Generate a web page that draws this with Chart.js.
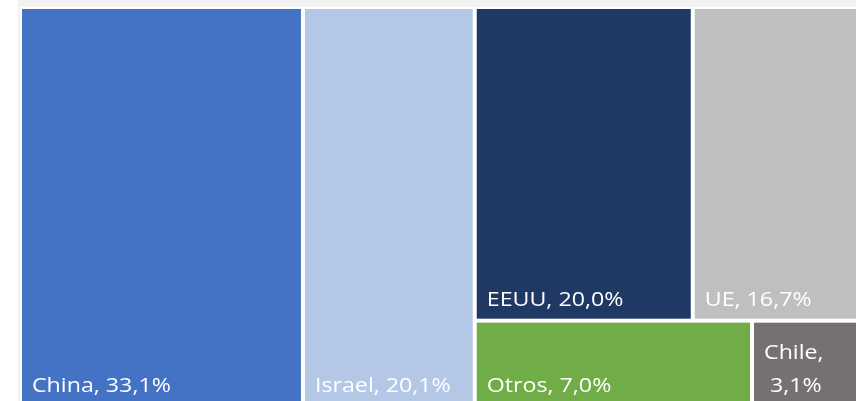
<!DOCTYPE html>
<html>
<head>
<meta charset="utf-8">
<script src="https://cdn.jsdelivr.net/npm/chart.js@4/dist/chart.umd.min.js"></script>
<style>
  html, body { margin: 0; padding: 0; background: #ffffff; overflow: hidden; }
  #wrap { position: absolute; left: 0; top: 0; width: 856px; height: 401px; }
</style>
</head>
<body>
<div id="wrap"><canvas id="chart"></canvas></div>
<script>
// datos del treemap (porcentaje por origen)
const categories = ["China", "Israel", "EEUU", "UE", "Otros", "Chile"];
const shares = [33.1, 20.1, 20.0, 16.7, 7.0, 3.1];
const colors = ["#4472C4", "#B4C7E7", "#203864", "#BFBFBF", "#70AD47", "#767171"];

// agrupacion: columnas -> filas -> indices de categoria
const columns = [[[0]], [[1]], [[2, 3], [4, 5]]];

// la imagen esta recortada: solo se ve parte del area 0..100
const viewX = [0, 97.8];
const viewY = [0, 98.5];

function fmtLabel(i) {
    return categories[i] + ", " + shares[i].toFixed(1).replace(".", ",") + "%";
}

// calcula los rectangulos en unidades de datos (0..100 en ambos ejes)
function buildCells() {
    const total = shares.reduce((a, b) => a + b, 0);
    const sum = idx => idx.reduce((a, i) => a + shares[i], 0);
    const cells = [];
    let x = 0;
    columns.forEach(col => {
        const colSum = col.reduce((a, row) => a + sum(row), 0);
        const w = colSum / total * 100;
        let y = 0;
        col.forEach(row => {
            const rowSum = sum(row);
            const h = rowSum / colSum * 100;
            let cx = x;
            row.forEach(i => {
                const cw = shares[i] / rowSum * w;
                cells.push({ i: i, x0: cx, x1: cx + cw, y0: y, y1: y + h });
                cx += cw;
            });
            y += h;
        });
        x += w;
    });
    return cells;
}

const FONT = "20px 'Open Sans', sans-serif";
const STRETCH = 1.16;  // el texto original es mas ancho

function wrapText(ctx, text, maxW) {
    if (ctx.measureText(text).width * STRETCH <= maxW) return [text];
    const words = text.split(" ");
    const lines = [];
    let cur = "";
    words.forEach(wd => {
        const test = cur ? cur + " " + wd : wd;
        if (cur && ctx.measureText(test).width * STRETCH > maxW) {
            lines.push(cur);
            cur = " " + wd;
        } else {
            cur = test;
        }
    });
    lines.push(cur);
    return lines;
}

const treemapPlugin = {
    id: "treemapCells",
    beforeDraw(chart) {
        const ctx = chart.ctx;
        ctx.save();
        ctx.fillStyle = "#F2F2F2";
        ctx.fillRect(chart.chartArea.left - 2, 0, chart.width, chart.height);
        ctx.restore();
    },
    afterDatasetsDraw(chart) {
        const ctx = chart.ctx;
        const sx = chart.scales.x, sy = chart.scales.y;
        const gap = 2;
        ctx.save();
        buildCells().forEach(c => {
            const left = sx.getPixelForValue(c.x0), right = sx.getPixelForValue(c.x1);
            const top = sy.getPixelForValue(c.y0), bottom = sy.getPixelForValue(c.y1);
            ctx.fillStyle = "#FFFFFF";
            ctx.fillRect(left, top, right - left, bottom - top);
            ctx.fillStyle = colors[c.i];
            ctx.fillRect(left + gap, top + gap, right - left - 2 * gap, bottom - top - 2 * gap);

            // etiqueta abajo a la izquierda
            ctx.font = FONT;
            ctx.fillStyle = "#FFFFFF";
            ctx.textBaseline = "alphabetic";
            ctx.textAlign = "left";
            const lines = wrapText(ctx, fmtLabel(c.i), right - left - 2 * gap - 20);
            const lineH = 33;
            lines.forEach((ln, k) => {
                const by = bottom - gap - 13 - (lines.length - 1 - k) * lineH;
                ctx.save();
                ctx.translate(left + gap + 10, by);
                ctx.scale(STRETCH, 1);
                ctx.fillText(ln, 0, 0);
                ctx.restore();
            });
        });
        ctx.restore();
    }
};

new Chart(document.getElementById("chart"), {
    type: "scatter",
    data: { datasets: [{ data: [] }] },
    options: {
        responsive: true,
        maintainAspectRatio: false,
        animation: false,
        layout: { padding: { left: 20, top: 7, right: 0, bottom: 0 } },
        scales: {
            x: { type: "linear", min: viewX[0], max: viewX[1], display: false },
            y: { type: "linear", min: viewY[0], max: viewY[1], reverse: true, display: false }
        },
        plugins: { legend: { display: false }, tooltip: { enabled: false } }
    },
    plugins: [treemapPlugin]
});
</script>
</body>
</html>
